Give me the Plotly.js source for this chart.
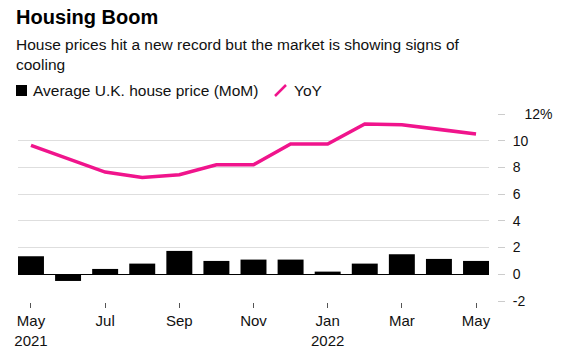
<!DOCTYPE html>
<html>
<head>
<meta charset="utf-8">
<script src="https://cdn.plot.ly/plotly-3.0.1.min.js"></script>
<style>html,body{margin:0;padding:0;background:#fff;}#chart{width:562px;height:354px;}</style>
</head>
<body>
<div id="chart"></div>
<script>
// ---- data ----
const months = ["May 2021","Jun 2021","Jul 2021","Aug 2021","Sep 2021","Oct 2021","Nov 2021","Dec 2021","Jan 2022","Feb 2022","Mar 2022","Apr 2022","May 2022"];
const momValues = [1.35, -0.5, 0.4, 0.8, 1.75, 1.0, 1.1, 1.1, 0.2, 0.8, 1.5, 1.15, 1.0];
const yoyValues = [9.65, 8.65, 7.65, 7.25, 7.45, 8.2, 8.2, 9.75, 9.75, 11.25, 11.2, 10.85, 10.5];
const xTickVals = ["May 2021","Jul 2021","Sep 2021","Nov 2021","Jan 2022","Mar 2022","May 2022"];
const xTickText = ["May<br>2021","Jul","Sep","Nov","Jan<br>2022","Mar","May"];
const yTickVals = [-2, 0, 2, 4, 6, 8, 10, 12];
const yTickText = ["-2", "0", "2", "4", "6", "8", "10", "\u00a0\u00a0\u00a012%"];
const titleText = "Housing Boom";
const subtitleText = "House prices hit a new record but the market is showing signs of<br>cooling";
const legendBarText = "Average U.K. house price (MoM)";
const legendLineText = "YoY";

// ---- layout helpers (pixel -> paper) ----
const W = 562, H = 354, ML = 18, MR = 65, MT = 114, MB = 53;
const PW = W - ML - MR, PH = H - MT - MB;
const px = p => (p - ML) / PW;
const py = p => (H - MB - p) / PH;

const PINK = "#f0148c";
const FONT = "Liberation Sans, Arial, sans-serif";

const traces = [
  {
    type: "bar", x: months, y: momValues, name: legendBarText,
    marker: {color: "#000000"}, width: 0.7, hoverinfo: "skip"
  },
  {
    type: "scatter", mode: "lines", x: months, y: yoyValues, name: legendLineText,
    line: {color: PINK, width: 3.6}, hoverinfo: "skip"
  }
];

const layout = {
  width: W, height: H,
  margin: {l: ML, r: MR, t: MT, b: MB, pad: 0},
  paper_bgcolor: "#ffffff", plot_bgcolor: "#ffffff",
  showlegend: false,
  font: {family: FONT, color: "#111111", size: 14},
  xaxis: {
    type: "category",
    domain: [0, px(489)],
    range: [-0.35, 12.35],
    tickmode: "array", tickvals: xTickVals, ticktext: xTickText,
    ticks: "outside", ticklen: 5, tickwidth: 1, tickcolor: "#555555",
    showgrid: false, zeroline: false,
    showline: true, linecolor: "#ffffff", linewidth: 2,
    tickfont: {size: 15, color: "#111111", family: FONT},
    fixedrange: true
  },
  yaxis: {
    range: [-2, 12],
    side: "right", anchor: "free", position: 1,
    tickmode: "array", tickvals: yTickVals, ticktext: yTickText,
    ticks: "outside", ticklen: 7, tickwidth: 1, tickcolor: "#cccccc",
    ticklabelstandoff: 5,
    showgrid: true, gridcolor: "#dedede", gridwidth: 1,
    zeroline: true, zerolinecolor: "#000000", zerolinewidth: 1.2,
    showline: false,
    tickfont: {size: 14, color: "#111111", family: FONT},
    fixedrange: true
  },
  annotations: [
    {text: "<b>" + titleText + "</b>", xref: "paper", yref: "paper", x: px(14), y: py(17),
     xanchor: "left", yanchor: "middle", showarrow: false, font: {size: 20, color: "#000000", family: FONT}},
    {text: subtitleText, xref: "paper", yref: "paper", x: px(14), y: py(54),
     xanchor: "left", yanchor: "middle", align: "left", showarrow: false,
     font: {size: 15.5, color: "#111111", family: FONT}},
    {text: legendBarText, xref: "paper", yref: "paper", x: px(31), y: py(90.5),
     xanchor: "left", yanchor: "middle", showarrow: false, font: {size: 15.5, color: "#111111", family: FONT}},
    {text: legendLineText, xref: "paper", yref: "paper", x: px(292), y: py(90.5),
     xanchor: "left", yanchor: "middle", showarrow: false, font: {size: 15.5, color: "#111111", family: FONT}}
  ],
  shapes: [
    {type: "rect", xref: "paper", yref: "paper", x0: px(16), x1: px(27), y0: py(96), y1: py(85),
     fillcolor: "#000000", line: {width: 0}},
    {type: "line", xref: "paper", yref: "paper", x0: px(275), x1: px(286), y0: py(96), y1: py(85),
     line: {color: PINK, width: 2.5}}
  ]
};

Plotly.newPlot("chart", traces, layout, {staticPlot: true, displayModeBar: false});
</script>
</body>
</html>
